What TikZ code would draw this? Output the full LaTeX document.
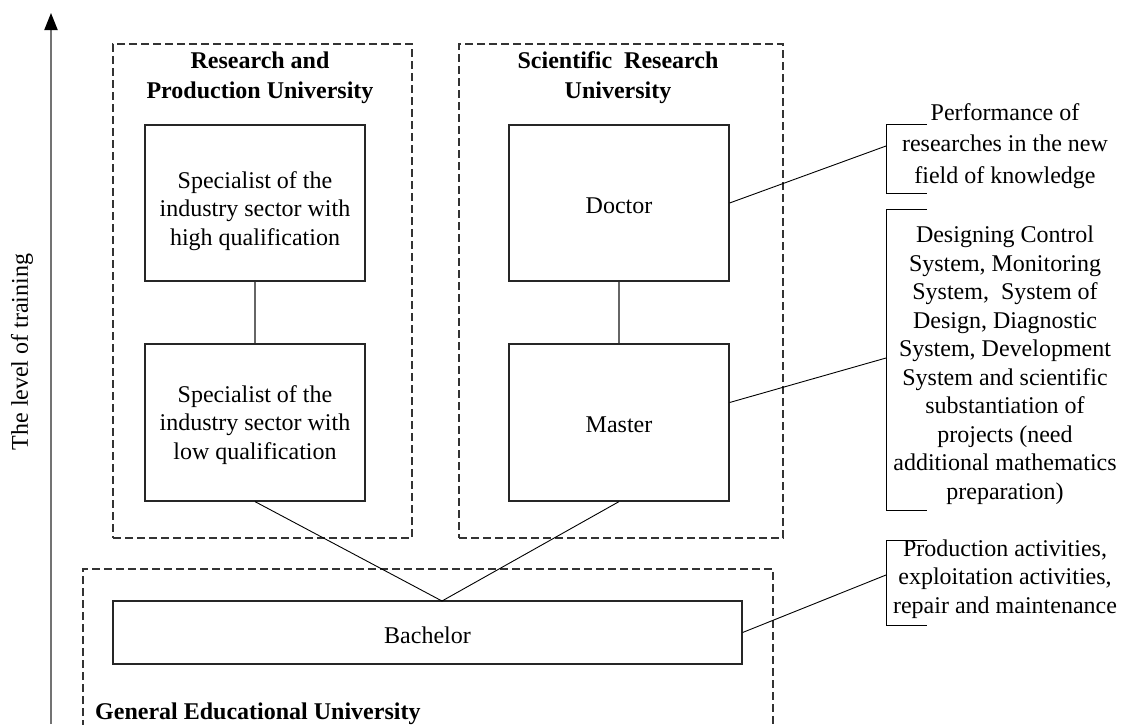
\documentclass[tikz,border=0pt]{standalone}
\usepackage{fontspec}
\setmainfont{Liberation Serif}
\usetikzlibrary{arrows.meta}
\begin{document}
\begin{tikzpicture}[x=1pt,y=-1pt,
  txt/.style={font=\fontsize{24}{28.5}\selectfont, align=center, inner sep=0pt},
  ttl/.style={font=\fontsize{24}{30}\selectfont\bfseries, align=center, inner sep=0pt},
  frame/.style={draw=black!80, dash pattern=on 8pt off 4pt, line width=1.1pt, inner sep=0pt},
  stage/.style={draw=black!85, line width=1.2pt, inner sep=0pt},
  link/.style={draw=black, line width=0.9pt},
  vlink/.style={draw=black!60, line width=1.3pt},
  brack/.style={draw=black, line width=1pt}]
\useasboundingbox (0,0) rectangle (1124,724);
\clip (0,0) rectangle (1124,724);

% axis
\coordinate (axbot) at (51,724);
\coordinate (axtop) at (51,13);
\draw[draw=black!55, line width=2pt, -{Triangle[length=17pt,width=13pt,color=black]}] (axbot) -- (axtop);
\node[txt, rotate=90] (axlabel) at (22,352) {The level of training};

% frames
\node[frame, minimum width=299pt, minimum height=494pt] (rpu) at (262.5,291) {};
\node[frame, minimum width=324pt, minimum height=494pt] (sru) at (621,291) {};
\draw[draw=black!80, dash pattern=on 8pt off 4pt, line width=1.1pt] (83,740) -- (83,569) -- (773,569) -- (773,740);

% titles
\node[ttl] (rputitle) at (260,78) {Research and\\Production University};
\node[ttl] (srutitle) at (618,78) {Scientific~ Research\\University};
\node[ttl, anchor=west] (geu) at (95,714) {General Educational University};

% stage boxes
\node[stage, minimum width=220pt, minimum height=156pt] (high) at (255,203) {};
\node[txt] (hightext) at (255,211) {Specialist of the\\industry sector with\\high qualification};
\node[stage, minimum width=220pt, minimum height=157pt] (low) at (255,422.5) {};
\node[txt] (lowtext) at (255,425) {Specialist of the\\industry sector with\\low qualification};
\node[stage, minimum width=220pt, minimum height=156pt] (doctor) at (619,203) {};
\node[txt] (doctortext) at (619,206) {Doctor};
\node[stage, minimum width=220pt, minimum height=157pt] (master) at (619,422.5) {};
\node[txt] (mastertext) at (619,425) {Master};
\node[stage, minimum width=629pt, minimum height=63pt] (bachelor) at (427.5,632.5) {};
\node[txt] (bachelortext) at (427.5,635) {Bachelor};

% vertical links
\draw[vlink] (high.south) -- (low.north);
\draw[vlink] (doctor.south) -- (master.north);
% links to bachelor
\coordinate (bachtop) at (442,601);
\draw[link] (low.south) -- (bachtop);
\draw[link] (master.south) -- (bachtop);

% right notes
\node[txt, font=\fontsize{24}{31.5}\selectfont] (note1) at (1005,146) {Performance of\\researches in the new\\field of knowledge};
\node[txt] (note2) at (1005,365) {Designing Control\\System, Monitoring\\System,~ System of\\Design, Diagnostic\\System, Development\\System and scientific\\substantiation of\\projects (need\\additional mathematics\\preparation)};
\node[txt] (note3) at (1005,579) {Production activities,\\exploitation activities,\\repair and maintenance};

% brackets
\draw[brack] (927,124) -- (886,124) -- (886,193) -- (927,193);
\draw[brack] (927,209) -- (886,209) -- (886,510) -- (927,510);
\draw[brack] (927,540) -- (886,540) -- (886,625) -- (927,625);
\coordinate (b1) at (886,146);
\coordinate (b2) at (886,358);
\coordinate (b3) at (886,575);

\draw[link] (doctor.east) -- (b1);
\draw[link] ([yshift=20pt]master.east) -- (b2);
\draw[link] (bachelor.east) -- (b3);
\end{tikzpicture}
\end{document}
